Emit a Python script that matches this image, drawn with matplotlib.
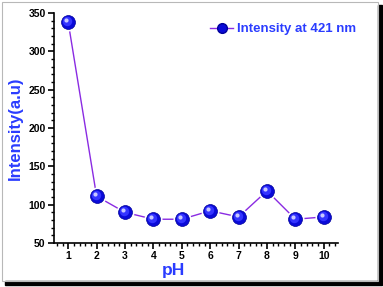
import matplotlib
matplotlib.use("Agg")
import matplotlib.pyplot as plt
from matplotlib.transforms import offset_copy
from matplotlib.patches import Rectangle
from matplotlib.ticker import MultipleLocator
from matplotlib.lines import Line2D

plt.rcParams['font.family'] = ['Liberation Sans', 'DejaVu Sans']

ph = [1, 2, 3, 4, 5, 6, 7, 8, 9, 10]
intensity = [338, 111, 90, 81, 81, 92, 84, 118, 81, 84]
series_label = "Intensity at 421 nm"

blue_text = '#2a3cff'
line_col = '#8a2be2'

fig = plt.figure(figsize=(3.83, 2.87), dpi=100)
ax = fig.add_axes([54/383, 44/287, 284/383, 230/287])

ax.plot(ph, intensity, '-', color=line_col, lw=1.0, zorder=2)
# spheres: white halo + base + highlight layers
ax.plot(ph, intensity, 'o', ms=13, mfc='white', mec='none', zorder=3)
ax.plot(ph, intensity, 'o', ms=10, mfc='#0a0ad8', mec='#00009a', mew=0.5, zorder=4)
t1 = offset_copy(ax.transData, fig=fig, x=-0.7, y=0.7, units='points')
ax.plot(ph, intensity, 'o', ms=6.8, mfc='#3434ff', mec='none', zorder=5, transform=t1)
t2 = offset_copy(ax.transData, fig=fig, x=-1.5, y=1.6, units='points')
ax.plot(ph, intensity, 'o', ms=3.0, mfc='#c8c8ff', mec='none', zorder=6, transform=t2)

# legend handle
h = Line2D([], [], color=line_col, lw=1.0, marker='o', ms=7, mfc='#0a0ad8', mec='#00009a')
leg = ax.legend([h], [series_label], loc='upper right', frameon=False,
                prop={'weight': 'bold', 'size': 9.5}, handlelength=1.8,
                handletextpad=0.3, bbox_to_anchor=(1.10, 1.0), borderaxespad=0.35)
for t in leg.get_texts():
    t.set_color(blue_text)

ax.set_xlim(0.5, 10.5)
ax.set_ylim(50, 350)
ax.xaxis.set_major_locator(MultipleLocator(1))
ax.xaxis.set_minor_locator(MultipleLocator(0.2))
ax.yaxis.set_major_locator(MultipleLocator(50))
ax.yaxis.set_minor_locator(MultipleLocator(10))
ax.spines['top'].set_visible(False)
ax.spines['right'].set_visible(False)
for s in ('left', 'bottom'):
    ax.spines[s].set_linewidth(1.2)
ax.tick_params(which='major', direction='out', length=4, width=1.2, labelsize=7.5, pad=2)
ax.tick_params(which='minor', direction='out', length=2.2, width=1.0)
for lab in ax.get_xticklabels() + ax.get_yticklabels():
    lab.set_fontweight('bold')

ax.set_xlabel('pH', color=blue_text, fontsize=12.5, fontweight='bold', labelpad=1)
ax.xaxis.set_label_coords(0.42, -0.085)
ax.set_ylabel('Intensity(a.u)', color=blue_text, fontsize=12, fontweight='bold', labelpad=4)

# figure frame with shadow
fig.patches.append(Rectangle((5/383, 2/287), 377/383, 4/287,
                             transform=fig.transFigure, color='black', zorder=0))
fig.patches.append(Rectangle((378/383, 3/287), 4/383, 279/287,
                             transform=fig.transFigure, color='black', zorder=0))
fig.patches.append(Rectangle((2/383, 6/287), 376/383, 279/287, transform=fig.transFigure,
                             fill=False, ec='#b8b8b8', lw=0.8, zorder=1))

fig.savefig('out.png', dpi=100)
